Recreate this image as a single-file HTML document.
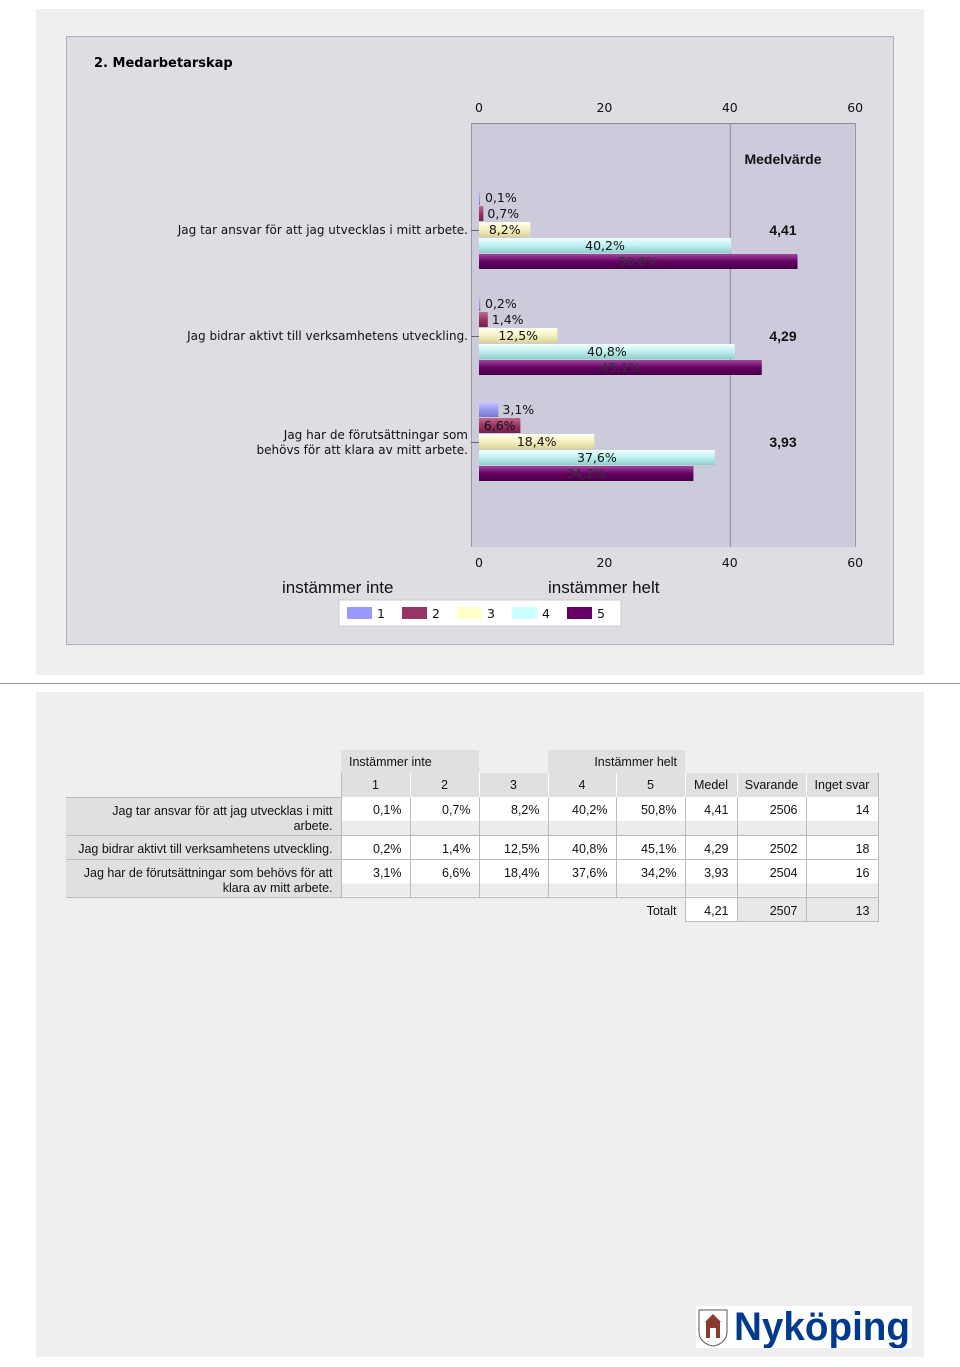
<!DOCTYPE html>
<html><head><meta charset="utf-8">
<style>
body{margin:0;width:960px;height:1367px;background:#fff;position:relative;overflow:hidden;font-family:"Liberation Sans",sans-serif}
.abs{position:absolute}
table{border-collapse:collapse;font-size:12.5px;color:#111}
td{padding:0 8px;vertical-align:top;box-sizing:border-box}
.hd td{background:#e0e0e0}
</style></head><body>
<div class="abs" style="left:36px;top:9px;width:888px;height:666px;background:#efefef"></div>
<div class="abs" style="left:0;top:683px;width:960px;height:1px;background:#999"></div>
<div class="abs" style="left:36px;top:692px;width:888px;height:665px;background:#efefef"></div>
<svg class="abs" style="left:0;top:0" width="960" height="680" font-family="'DejaVu Sans',sans-serif">
<defs>
<linearGradient id="g0" x1="0" y1="0" x2="0" y2="1"><stop offset="0" stop-color="#c8c8ff"/><stop offset=".5" stop-color="#9999ee"/><stop offset="1" stop-color="#7777cc"/></linearGradient>
<linearGradient id="g1" x1="0" y1="0" x2="0" y2="1"><stop offset="0" stop-color="#c06a8a"/><stop offset=".5" stop-color="#993366"/><stop offset="1" stop-color="#702048"/></linearGradient>
<linearGradient id="g2" x1="0" y1="0" x2="0" y2="1"><stop offset="0" stop-color="#fffff0"/><stop offset=".5" stop-color="#f5f0c0"/><stop offset="1" stop-color="#d8d29a"/></linearGradient>
<linearGradient id="g3" x1="0" y1="0" x2="0" y2="1"><stop offset="0" stop-color="#f0ffff"/><stop offset=".5" stop-color="#bff0f0"/><stop offset="1" stop-color="#90cccc"/></linearGradient>
<linearGradient id="g4" x1="0" y1="0" x2="0" y2="1"><stop offset="0" stop-color="#a04a9a"/><stop offset=".5" stop-color="#660066"/><stop offset="1" stop-color="#440044"/></linearGradient>
</defs>
<rect x="66.5" y="36.5" width="827" height="608" fill="#dedde3" stroke="#b0b0b8"/>
<text x="94" y="67" font-size="13" font-weight="bold" fill="#000">2. Medarbetarskap</text>
<rect x="471" y="123" width="384" height="424" fill="#cbcbdb"/>
<line x1="471" y1="123.5" x2="855" y2="123.5" stroke="#888"/>
<line x1="471.5" y1="123" x2="471.5" y2="547" stroke="#999"/>
<line x1="855.5" y1="123" x2="855.5" y2="547" stroke="#999"/>
<g id="grid"></g><g id="bars"></g>
<text x="783" y="164" font-size="14" font-weight="bold" font-family="'Liberation Sans',sans-serif" text-anchor="middle" fill="#111">Medelvärde</text>
<text x="282" y="593" font-size="17" font-family="'Liberation Sans',sans-serif" fill="#111">instämmer inte</text>
<text x="548" y="593" font-size="17" font-family="'Liberation Sans',sans-serif" fill="#111">instämmer helt</text>
<rect x="339" y="600" width="282" height="26" fill="#fff" stroke="#ccc"/>
<g id="legend"></g>
</svg>

<table class="abs" style="left:66px;top:750px">
<colgroup><col style="width:275px"><col style="width:69px"><col style="width:69px"><col style="width:69px"><col style="width:68px"><col style="width:69px"><col style="width:52px"><col style="width:69px"><col style="width:72px"></colgroup>
<tr style="height:23px"><td></td><td colspan="2" style="background:#e0e0e0;text-align:left;padding-top:5px">Instämmer inte</td><td></td><td colspan="2" style="background:#e0e0e0;text-align:right;padding-top:5px">Instämmer helt</td><td></td><td></td><td></td></tr>
<tr class="hd" style="height:24px;text-align:center"><td style="background:none"></td><td style="border-left:1px solid #bbb;padding-top:5px">1</td><td style="border-left:1px solid #fff;padding-top:5px">2</td><td style="border-left:1px solid #fff;padding-top:5px">3</td><td style="border-left:1px solid #fff;padding-top:5px">4</td><td style="border-left:1px solid #fff;padding-top:5px">5</td><td style="border-left:1px solid #fff;padding:5px 2px 0">Medel</td><td style="border-left:1px solid #fff;padding:5px 2px 0">Svarande</td><td style="border-left:1px solid #fff;border-right:1px solid #bbb;padding:5px 2px 0">Inget svar</td></tr>
<tbody id="tb"></tbody>
</table>

<svg class="abs" style="left:696px;top:1306px" width="216" height="42">
<rect width="216" height="42" fill="#fff"/>
<path d="M3 4h28v22c0 8-7 13-14 14c-7-1-14-6-14-14z" fill="#fff" stroke="#555"/>
<path d="M17 8l-8 8h16z" fill="#8a3a2a"/><rect x="10" y="16" width="14" height="16" fill="#8a3a2a"/><rect x="14" y="22" width="6" height="10" fill="#fff"/>
<text x="38" y="34" font-family="'Liberation Sans',sans-serif" font-weight="bold" font-size="40" fill="#003a8c" textLength="176" lengthAdjust="spacingAndGlyphs">Nyköping</text>
</svg>

<script>
const categories=["Jag tar ansvar för att jag utvecklas i mitt arbete.","Jag bidrar aktivt till verksamhetens utveckling.","Jag har de förutsättningar som behövs för att klara av mitt arbete."];
const s1=[0.1,0.2,3.1];
const s2=[0.7,1.4,6.6];
const s3=[8.2,12.5,18.4];
const s4=[40.2,40.8,37.6];
const s5=[50.8,45.1,34.2];
const means=[4.41,4.29,3.93];
const respondents=[2506,2502,2504];
const noAnswer=[14,18,16];
const totals=[4.21,2507,13];
const ticks=[0,20,40,60];
const series=[s1,s2,s3,s4,s5];
const NS="http://www.w3.org/2000/svg";
const x=v=>479+v*6.27;
const grid=document.getElementById('grid'),bars=document.getElementById('bars');
function mk(tag,attrs,parent){const e=document.createElementNS(NS,tag);for(const k in attrs)e.setAttribute(k,attrs[k]);parent.appendChild(e);return e;}
const fmt=v=>v.toFixed(1).replace('.',',')+'%';
ticks.forEach(t=>{
 if(t===40){const l=mk('line',{x1:x(t)+.5,x2:x(t)+.5,y1:123,y2:547,stroke:'#8a8a9a'},grid);
 
 }
 [112,567].forEach(y=>{const tx=mk('text',{x:x(t),y:y,'font-size':12.5,'text-anchor':'middle',fill:'#111'},grid);tx.textContent=t;
 
 });
});
const labelLines=[["Jag tar ansvar för att jag utvecklas i mitt arbete."],["Jag bidrar aktivt till verksamhetens utveckling."],["Jag har de förutsättningar som","behövs för att klara av mitt arbete."]];
categories.forEach((c,i)=>{
 const top=190+i*106;
 const ll=labelLines[i];
 ll.forEach((ln,j)=>{const t=mk('text',{x:468,y:top+44-(ll.length-1)*7+j*15,'font-size':12,'text-anchor':'end',fill:'#111'},bars);t.textContent=ln;
 
 });
 mk('line',{x1:471,x2:479,y1:top+40.5,y2:top+40.5,stroke:'#666'},bars);
 series.forEach((s,k)=>{
  const y=top+k*16, w=x(s[i])-479;
  const r=mk('rect',{x:479,y:y,width:Math.max(w,1),height:15,fill:'url(#g'+k+')'},bars);
  
  
  const anchor=w>40?'middle':'start';
  const t=mk('text',{x:w>40?479+w/2:(w>20?482:481+Math.max(w,2)+2),y:y+12,'font-size':12.5,'text-anchor':anchor,fill:k===4?'#333':'#111'},bars);
  t.textContent=fmt(s[i]);
  
  
 });
 const m=mk('text',{x:783,y:top+45,'font-size':14,'font-weight':'bold','font-family':"'Liberation Sans',sans-serif",'text-anchor':'middle',fill:'#111'},bars);
 m.textContent=means[i].toFixed(2).replace('.',',');
 
 
});
const lg=document.getElementById('legend');
const lc=['#9999ff','#993366','#ffffcc','#ccffff','#660066'];
lc.forEach((c,k)=>{const bx=347+k*55;
 const r=mk('rect',{x:bx,y:607,width:25,height:12,fill:c},lg);
 
 
 const t=mk('text',{x:bx+30,y:618,'font-size':12.5,fill:'#111'},lg);t.textContent=k+1;
 
 });
const tb=document.getElementById('tb');
const tl=[["Jag tar ansvar för att jag utvecklas i mitt","arbete."],["Jag bidrar aktivt till verksamhetens utveckling."],["Jag har de förutsättningar som behövs för att","klara av mitt arbete."]];
categories.forEach((c,i)=>{
 const tr=document.createElement('tr');
 
 
 const two=tl[i].length>1;
 tr.style.height=(two?38:24)+'px';
 const cells=[tl[i].join('<br>')].concat(series.map(s=>fmt(s[i]))).concat([means[i].toFixed(2).replace('.',','),respondents[i],noAnswer[i]]);
 cells.forEach((v,j)=>{const td=document.createElement('td');td.innerHTML=v;td.style.textAlign='right';td.style.paddingTop='6px';td.style.lineHeight='15px';
  if(j===0){td.style.background='#e0e0e0';td.style.borderTop='1px solid #bbb';td.style.borderBottom='1px solid #bbb';}
  else{td.style.background=two?'linear-gradient(#fff 0,#fff 24px,#ececec 24px)':'#fff';td.style.borderLeft='1px solid #bbb';td.style.borderBottom='1px solid #bbb';}
  if(j===6)td.style.padding='6px 8px 0 2px';
  if(j===8)td.style.borderRight='1px solid #bbb';
  tr.appendChild(td);});
 tb.appendChild(tr);
});
const tr=document.createElement('tr');tr.style.height='24px';


tr.innerHTML='<td></td><td></td><td></td><td></td><td></td><td style="text-align:right;padding-top:6px">Totalt</td>'+totals.map((v,j)=>'<td style="text-align:right;padding-top:6px;background:'+(j===0?'#fff':'#e8e8e8')+';border:1px solid #bbb">'+(j===0?v.toFixed(2).replace('.',','):v)+'</td>').join('');
tb.appendChild(tr);
</script>
</body></html>
